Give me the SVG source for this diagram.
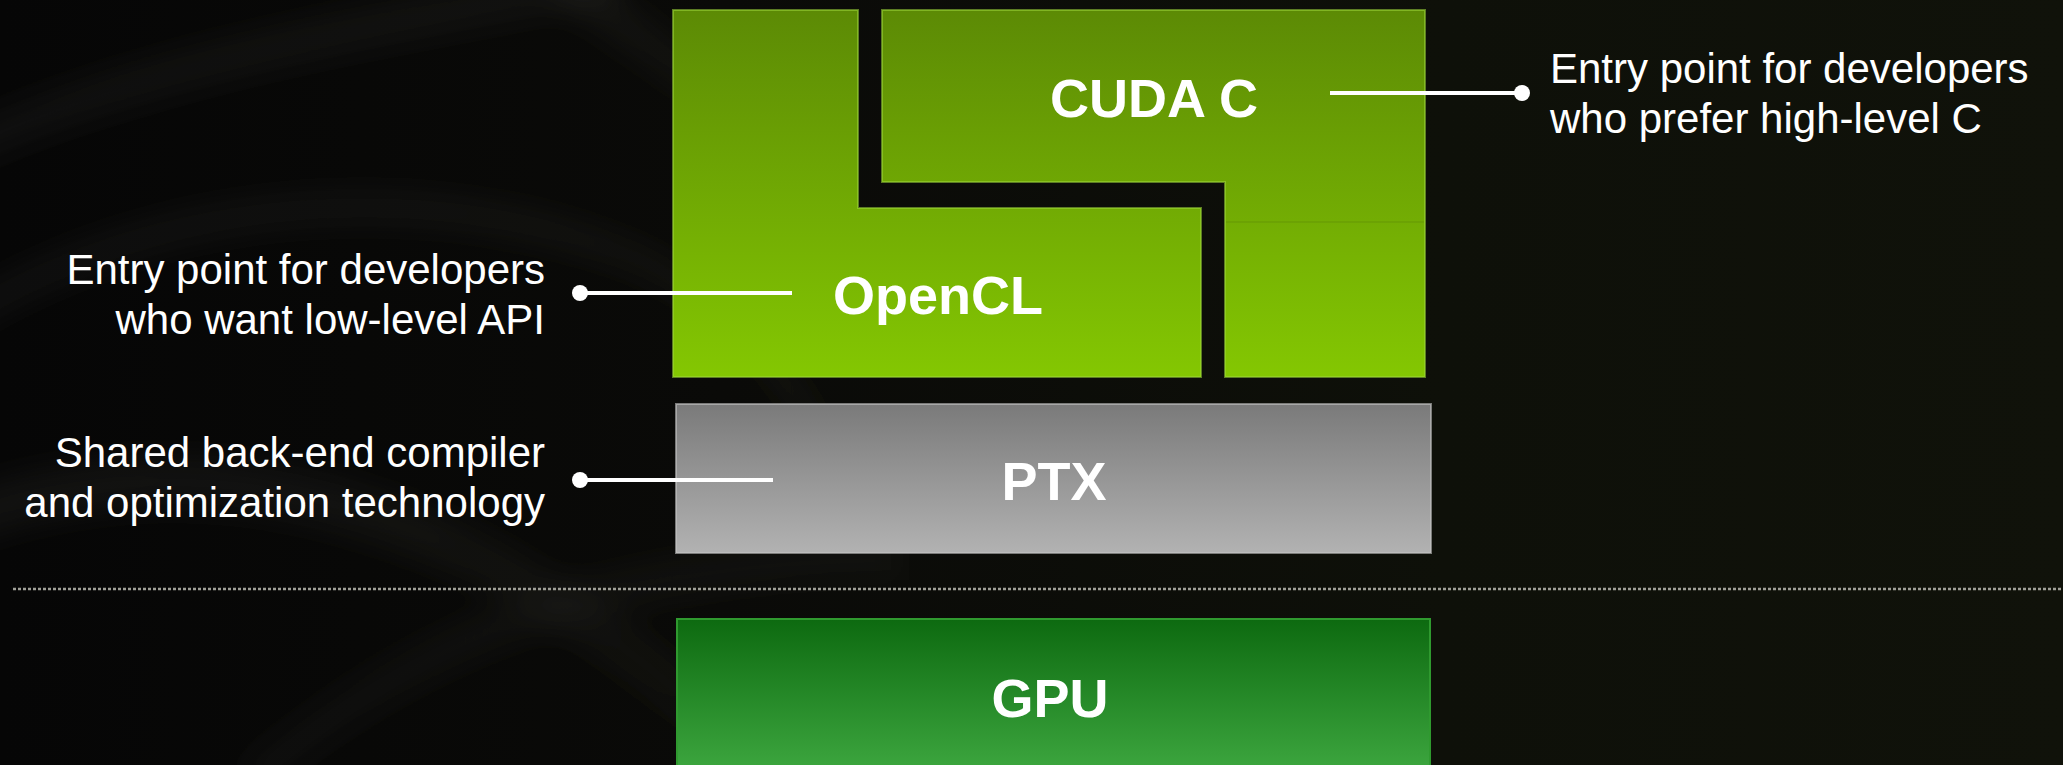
<svg xmlns="http://www.w3.org/2000/svg" width="2063" height="765" viewBox="0 0 2063 765">
  <defs>
    <linearGradient id="bgGrad" x1="0" y1="0" x2="1" y2="0">
      <stop offset="0" stop-color="#060606"/>
      <stop offset="0.35" stop-color="#0a0a08"/>
      <stop offset="0.7" stop-color="#0e1009"/>
      <stop offset="1" stop-color="#10120a"/>
    </linearGradient>
    <linearGradient id="ribbon" x1="0" y1="0" x2="1" y2="1">
      <stop offset="0" stop-color="#8a8a80"/>
      <stop offset="1" stop-color="#3a3a30"/>
    </linearGradient>
    <filter id="soft" x="-20%" y="-20%" width="140%" height="140%">
      <feGaussianBlur stdDeviation="14"/>
    </filter>
    <linearGradient id="greenTop" gradientUnits="userSpaceOnUse" x1="0" y1="9" x2="0" y2="377">
      <stop offset="0" stop-color="#5c8a05"/>
      <stop offset="1" stop-color="#84c702"/>
    </linearGradient>
    <linearGradient id="grey" gradientUnits="userSpaceOnUse" x1="0" y1="404" x2="0" y2="553">
      <stop offset="0" stop-color="#7a7a7a"/>
      <stop offset="1" stop-color="#b2b2b2"/>
    </linearGradient>
    <linearGradient id="gpuGrad" gradientUnits="userSpaceOnUse" x1="0" y1="619" x2="0" y2="765">
      <stop offset="0" stop-color="#0d6a10"/>
      <stop offset="1" stop-color="#3ba43d"/>
    </linearGradient>
    <style>
      .box-label { font-family: "Liberation Sans", Arial, sans-serif; font-weight: bold; font-size: 54px; fill: #ffffff; text-anchor: middle; }
      .note { font-family: "Liberation Sans", Arial, sans-serif; font-size: 42px; fill: #ffffff; }
      .note-left { text-anchor: end; }
      .leader { stroke: #ffffff; stroke-width: 4; fill: none; }
      .dot { fill: #ffffff; }
      .green-edge { stroke: #9fd83a; stroke-opacity: 0.55; stroke-width: 2; }
      .grey-edge { stroke: #c4c4c4; stroke-opacity: 0.6; stroke-width: 2; }
    </style>
  </defs>

  <!-- background -->
  <rect x="0" y="0" width="2063" height="765" fill="url(#bgGrad)"/>
  <g id="background-swoosh" fill="none" stroke="url(#ribbon)" filter="url(#soft)">
    <path d="M -40 150 C 150 60 420 20 620 -20" stroke-width="40" stroke-opacity="0.10"/>
    <path d="M -40 320 C 150 200 420 170 640 260 C 760 320 820 420 860 520" stroke-width="30" stroke-opacity="0.09"/>
    <path d="M -40 520 C 120 460 300 470 480 560 C 600 620 700 700 760 780" stroke-width="50" stroke-opacity="0.09"/>
    <path d="M 250 780 C 420 640 600 560 900 560" stroke-width="40" stroke-opacity="0.07"/>
    <path d="M 560 -20 C 700 80 820 160 880 300" stroke-width="40" stroke-opacity="0.07"/>
  </g>

  <!-- separator -->
  <line id="separator" x1="13" y1="589" x2="2063" y2="589" stroke="#a0a098" stroke-width="2.5" stroke-dasharray="3 2"/>

  <!-- OpenCL -->
  <g id="node-opencl">
    <polygon points="673,10 858,10 858,208 1201,208 1201,377 673,377" fill="url(#greenTop)" class="green-edge"/>
    <text class="box-label" x="938" y="314">OpenCL</text>
  </g>

  <!-- CUDA C -->
  <g id="node-cuda">
    <polygon points="882,10 1425,10 1425,377 1225,377 1225,182 882,182" fill="url(#greenTop)" class="green-edge"/>
    <line x1="1226" y1="222" x2="1424" y2="222" stroke="#4f7a05" stroke-opacity="0.4" stroke-width="1"/>
    <text class="box-label" x="1154" y="117">CUDA C</text>
  </g>

  <!-- PTX -->
  <g id="node-ptx">
    <rect x="676" y="404" width="755" height="149" fill="url(#grey)" class="grey-edge"/>
    <text class="box-label" x="1054" y="500">PTX</text>
  </g>

  <!-- GPU -->
  <g id="node-gpu">
    <rect x="677" y="619" width="753" height="160" fill="url(#gpuGrad)" stroke="#2f9a2f" stroke-width="2"/>
    <text class="box-label" x="1050" y="717">GPU</text>
  </g>

  <!-- connectors -->
  <g id="connectors">
    <line class="leader" x1="1330" y1="93" x2="1522" y2="93"/>
    <circle class="dot" cx="1522" cy="93" r="8"/>
    <line class="leader" x1="580" y1="293" x2="792" y2="293"/>
    <circle class="dot" cx="580" cy="293" r="8"/>
    <line class="leader" x1="580" y1="480" x2="773" y2="480"/>
    <circle class="dot" cx="580" cy="480" r="8"/>
  </g>

  <!-- annotations -->
  <g id="note-cuda">
    <text class="note" x="1550" y="83">Entry point for developers</text>
    <text class="note" x="1550" y="133">who prefer high-level C</text>
  </g>
  <g id="note-opencl">
    <text class="note note-left" x="545" y="284">Entry point for developers</text>
    <text class="note note-left" x="545" y="334">who want low-level API</text>
  </g>
  <g id="note-ptx">
    <text class="note note-left" x="545" y="467">Shared back-end compiler</text>
    <text class="note note-left" x="545" y="517">and optimization technology</text>
  </g>
</svg>
